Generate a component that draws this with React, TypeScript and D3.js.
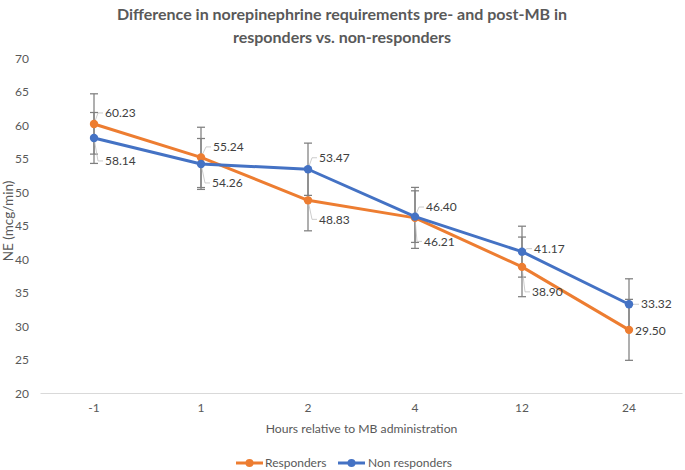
import React from "react";
import * as d3 from "d3";

// Hours relative to MB administration
const hours = ["-1", "1", "2", "4", "12", "24"];
const responders = [60.23, 55.24, 48.83, 46.21, 38.9, 29.5];
const nonResponders = [58.14, 54.26, 53.47, 46.4, 41.17, 33.32];
const respondersErr = [4.5, 4.5, 4.55, 4.55, 4.45, 4.55];
const nonRespondersErr = [3.8, 3.8, 3.9, 3.85, 3.8, 3.8];
const yTicks = [20, 25, 30, 35, 40, 45, 50, 55, 60, 65, 70];

// data label placement (pixel offset from the point)
const respLabelOff = [[11, -11], [12, -10.5], [11, 19], [9, 23.5], [10, 25], [6, 1]];
const nonLabelOff = [[11, 23], [11, 19], [11, -11.5], [11, -9.6], [12, -3], [12, 0]];

const W = 685;
const H = 470;
const FONT = "Lato, 'Open Sans', sans-serif";
const ORANGE = "#ed7d31";
const BLUE = "#4472c4";
const GRAY = "#595959";

export default function App() {
  const x = d3.scaleBand().domain(hours).range([40.5, 682.5]);
  const y = d3.scaleLinear().domain([20, 70]).range([393.5, 58.5]);
  const cx = (h: string) => (x(h) as number) + x.bandwidth() / 2;

  const line = d3
    .line<number>()
    .x((_, i) => cx(hours[i]))
    .y((d) => y(d));

  const series = [
    { name: "Responders", values: responders, err: respondersErr, color: ORANGE, off: respLabelOff },
    { name: "Non responders", values: nonResponders, err: nonRespondersErr, color: BLUE, off: nonLabelOff },
  ];

  return (
    <svg
      width={W}
      height={H}
      style={{ position: "absolute", left: 0, top: 0, background: "#fff" }}
      fontFamily={FONT}
    >
      <rect width={W} height={H} fill="#fff" />
      {/* Title */}
      <text x={342} y={20} textAnchor="middle" fontSize={16} fontWeight="bold" fill={GRAY}>
        Difference in norepinephrine requirements pre- and post-MB in
      </text>
      <text x={342} y={43} textAnchor="middle" fontSize={16} fontWeight="bold" fill={GRAY}>
        responders vs. non-responders
      </text>

      {/* Y axis labels */}
      {yTicks.map((t) => (
        <text key={t} x={29} y={y(t)} dy="0.35em" textAnchor="end" fontSize={12} fill={GRAY}>
          {t}
        </text>
      ))}
      <text
        transform={`translate(13,221) rotate(-90)`}
        textAnchor="middle"
        fontSize={13.5}
        fill={GRAY}
      >
        NE (mcg/min)
      </text>

      {/* X axis */}
      <line x1={40.5} x2={682.5} y1={y(20)} y2={y(20)} stroke="#d9d9d9" strokeWidth={1} />
      {hours.map((h) => (
        <text key={h} x={cx(h)} y={408} dy="0.35em" textAnchor="middle" fontSize={12} fill={GRAY}>
          {h}
        </text>
      ))}
      <text x={361.5} y={429} dy="0.35em" textAnchor="middle" fontSize={12.2} fill={GRAY}>
        Hours relative to MB administration
      </text>

      {/* Error bars */}
      {series.map((s) =>
        s.values.map((v, i) => {
          const px = cx(hours[i]);
          const top = y(v + s.err[i]);
          const bot = y(v - s.err[i]);
          return (
            <g key={s.name + i} stroke="#7f7f7f" strokeWidth={1.25}>
              <line x1={px} x2={px} y1={top} y2={bot} />
              <line x1={px - 4} x2={px + 4} y1={top} y2={top} />
              <line x1={px - 4} x2={px + 4} y1={bot} y2={bot} />
            </g>
          );
        })
      )}

      {/* Leader lines */}
      {series.map((s) =>
        s.values.map((v, i) => {
          const px = cx(hours[i]);
          const py = y(v);
          const lx = px + s.off[i][0] - 2;
          const ly = py + s.off[i][1];
          return (
            <polyline
              key={"ll" + s.name + i}
              points={`${lx},${ly} ${lx - 5},${ly} ${px},${py}`}
              fill="none"
              stroke="#bfbfbf"
              strokeWidth={0.8}
            />
          );
        })
      )}

      {/* Lines and markers */}
      {series.map((s) => (
        <g key={"ln" + s.name}>
          <path d={line(s.values) || ""} fill="none" stroke={s.color} strokeWidth={3} strokeLinejoin="round" />
          {s.values.map((v, i) => (
            <circle key={i} cx={cx(hours[i])} cy={y(v)} r={4.2} fill={s.color} />
          ))}
        </g>
      ))}

      {/* Data labels */}
      {series.map((s) =>
        s.values.map((v, i) => (
          <text
            key={"lb" + s.name + i}
            x={cx(hours[i]) + s.off[i][0]}
            y={y(v) + s.off[i][1]}
            dy="0.35em"
            fontSize={12}
            fill="#404040"
          >
            {v.toFixed(2)}
          </text>
        ))
      )}

      {/* Legend */}
      {[
        { s: series[0], x0: 236, tx: 265 },
        { s: series[1], x0: 338, tx: 368 },
      ].map(({ s, x0, tx }) => (
        <g key={"lg" + s.name}>
          <line x1={x0} x2={x0 + 27} y1={463} y2={463} stroke={s.color} strokeWidth={3} />
          <circle cx={x0 + 13.5} cy={463} r={4} fill={s.color} />
          <text x={tx} y={463} dy="0.35em" fontSize={12} fill={GRAY}>
            {s.name}
          </text>
        </g>
      ))}
    </svg>
  );
}
